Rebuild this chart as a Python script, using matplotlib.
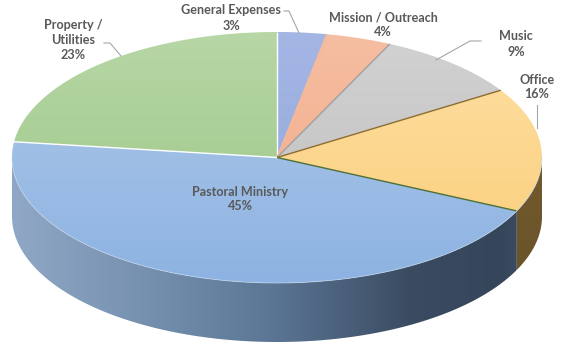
import numpy as np
import matplotlib
matplotlib.use("Agg")
import matplotlib.pyplot as plt
from matplotlib.patches import Polygon
from matplotlib.colors import LinearSegmentedColormap

# data
categories = ["General Expenses", "Mission / Outreach", "Music", "Office",
              "Pastoral Ministry", "Property /\nUtilities"]
shares = [3, 4, 9, 16, 45, 23]
pct_labels = ["3%", "4%", "9%", "16%", "45%", "23%"]

top_colors = [("#A4B6E4", "#8FA6DB"), ("#F6BEA2", "#F1A884"), ("#D2D2D2", "#BDBDBD"),
              ("#FEDFA4", "#FACE78"), ("#B0C9E9", "#8DB3E2"), ("#B7D7A6", "#99C583")]
edge_colors = ["white", "#F4B89A", "#A0A0A0", "#8C6C30", "#4F7036", "#FFFFFF"]

# geometry of the pie, in pixel units
CX, CY, A, B, DEPTH = 277, 157.5, 265, 125.5, 59

fig = plt.figure(figsize=(5.72, 3.58), dpi=100)
ax = fig.add_axes([0, 0, 1, 1])
ax.set_xlim(0, 572)
ax.set_ylim(358, 0)
ax.axis("off")


def pt(theta, dy=0.0):
    t = np.radians(theta)
    return CX + A * np.cos(t), CY - B * np.sin(t) + dy


def grad_fill(verts, stops, horizontal, z):
    poly = Polygon(verts, closed=True, facecolor="none", edgecolor="none")
    ax.add_patch(poly)
    cmap = LinearSegmentedColormap.from_list("g", stops)
    g = np.linspace(0, 1, 256)
    img = g[None, :] if horizontal else g[:, None]
    im = ax.imshow(img, cmap=cmap, extent=[CX - A, CX + A, CY + B + DEPTH, CY - B],
                   aspect="auto", zorder=z, interpolation="bicubic")
    if not horizontal:
        im.set_extent([CX - A, CX + A, CY + B, CY - B])
    im.set_clip_path(poly)


# slice angles, clockwise from 12 o'clock
bounds = 90 - 360 * np.concatenate([[0], np.cumsum(shares)]) / sum(shares)

# side walls (front half only)
wall_stops = {
    3: [(0, "#7C6130"), (1, "#6A532A")],
    4: [(0.0, "#90A8C6"), (0.25, "#7690AF"), (0.5, "#5A7493"), (0.75, "#3B4C62"),
        (0.92, "#35465B"), (1.0, "#415167")],
}
for i in range(len(shares)):
    hi, lo = bounds[i], bounds[i + 1]
    lo_v, hi_v = max(lo, -180), min(hi, 0)
    if lo_v >= hi_v:
        continue
    th = np.linspace(lo_v, hi_v, 120)
    xs, ys = pt(th)
    xb, yb = pt(th[::-1], DEPTH)
    verts = np.column_stack([np.concatenate([xs, xb]), np.concatenate([ys, yb])])
    stops = wall_stops.get(i, [(0, "#555555"), (1, "#444444")])
    grad_fill(verts, stops, i != 3, 1)

# top faces
for i in range(len(shares)):
    hi, lo = bounds[i], bounds[i + 1]
    th = np.linspace(hi, lo, 200)
    xs, ys = pt(th)
    verts = np.column_stack([np.concatenate([[CX], xs]), np.concatenate([[CY], ys])])
    grad_fill(verts, [(0, top_colors[i][0]), (1, top_colors[i][1])], False, 2)

# slice borders
for i in range(len(shares)):
    x, y = pt(bounds[i])
    ax.plot([CX, x], [CY, y], color=edge_colors[i], lw=1.0, zorder=3,
            solid_capstyle="butt")

# light rim on the front edge
th = np.linspace(-180, 0, 200)
xs, ys = pt(th)
ax.plot(xs, ys, color="#C5D6EC", lw=0.6, alpha=0.8, zorder=3)

# labels
lab_pos = [(231, 18), (383, 25), (516, 44), (537, 87), (240, 199), (73, 40)]
for i, (x, y) in enumerate(lab_pos):
    ax.text(x, y, categories[i] + "\n" + pct_labels[i], ha="center", va="center",
            fontsize=9.1, fontweight="bold", color="#595959", family="Lato",
            linespacing=1.3, zorder=5)

# leader lines
lc = "#A6A6A6"
ax.plot([284, 289, 299], [11, 11, 33], color=lc, lw=0.8, zorder=4)
ax.plot([481, 470, 436], [41, 41, 60], color=lc, lw=0.8, zorder=4)
ax.plot([537, 537], [105, 128], color=lc, lw=0.8, zorder=4)
ax.plot([104, 110, 121], [43, 43, 56], color=lc, lw=0.8, zorder=4)

fig.savefig("out.png", dpi=100)
